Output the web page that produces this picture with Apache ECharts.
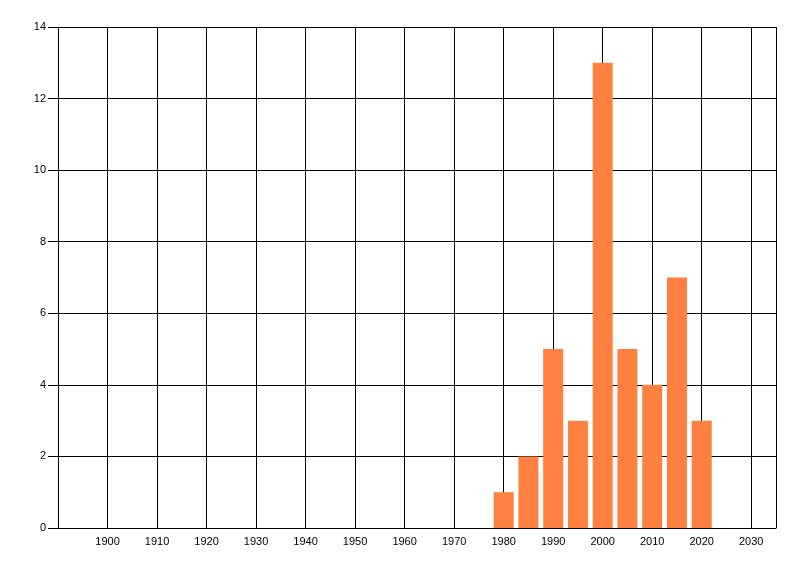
<!DOCTYPE html>
<html><head><meta charset="utf-8">
<script src="https://cdn.jsdelivr.net/npm/echarts@6/dist/echarts.min.js"></script>
<style>html,body{margin:0;padding:0;background:#fff}#c{width:800px;height:576px}</style>
</head><body><div id="c"></div>
<script>
var years = [1980, 1985, 1990, 1995, 2000, 2005, 2010, 2015, 2020];
var counts = [1, 2, 5, 3, 13, 5, 4, 7, 3];
var xMin = 1890, xMax = 2035, xStep = 10;
var yMin = 0, yMax = 14, yStep = 2;

var chart = echarts.init(document.getElementById('c'), null, {renderer: 'canvas'});
chart.setOption({
  animation: false,
  backgroundColor: '#fff',
  grid: {left: 58, right: 24, top: 27, bottom: 48},
  xAxis: {
    type: 'value', min: xMin, max: xMax, interval: xStep,
    axisLine: {show: true, onZero: false, lineStyle: {color: '#000', width: 1}},
    axisTick: {show: false},
    splitLine: {show: true, lineStyle: {color: '#000', width: 1}},
    axisLabel: {
      color: '#000', fontFamily: 'Liberation Sans, Arial, sans-serif', fontSize: 11, margin: 8,
      showMinLabel: false, showMaxLabel: false,
      formatter: function (v) { return (v % 10 === 0 && v !== xMin) ? String(v) : ''; }
    }
  },
  yAxis: {
    type: 'value', min: yMin, max: yMax, interval: yStep,
    axisLine: {show: true, lineStyle: {color: '#000', width: 1}},
    axisTick: {show: true, length: 10, lineStyle: {color: '#000'}},
    splitLine: {show: true, lineStyle: {color: '#000', width: 1}},
    axisLabel: {color: '#000', fontFamily: 'Liberation Sans, Arial, sans-serif', fontSize: 11, margin: 12}
  },
  series: [{
    type: 'bar',
    barWidth: 20,
    itemStyle: {color: '#ff8040'},
    data: years.map(function (y, i) { return [y, counts[i]]; })
  }]
});
</script></body></html>
